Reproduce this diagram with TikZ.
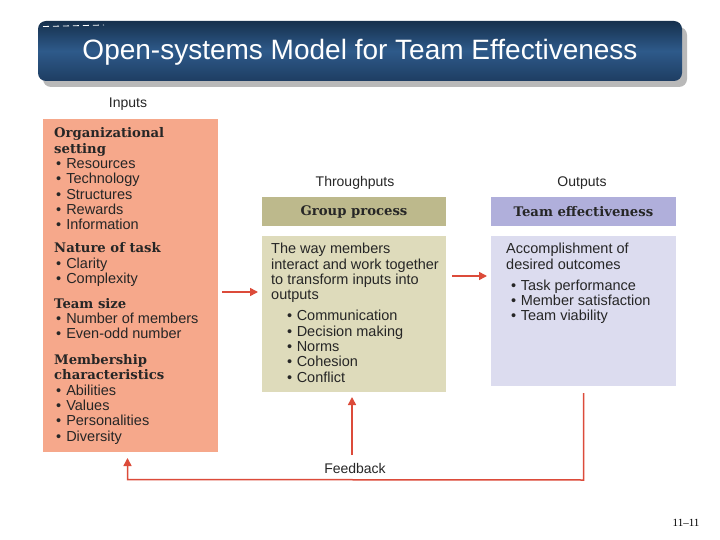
\documentclass[tikz,border=0pt]{standalone}
\usepackage{fontspec}
\setmainfont{Liberation Sans}
\newfontfamily\headfont{DejaVu Serif}
\newfontfamily\pagefont{Liberation Serif}
\usetikzlibrary{arrows.meta,calc}

\definecolor{inputc}{HTML}{F6A88B}
\definecolor{procdark}{HTML}{BDB98C}
\definecolor{proclight}{HTML}{DEDBBB}
\definecolor{outdark}{HTML}{B0AFDB}
\definecolor{outlight}{HTML}{DCDCEF}
\definecolor{arrowred}{HTML}{DC4B3A}
\definecolor{titletop}{HTML}{16304D}
\definecolor{titlemid}{HTML}{2E5A8A}
\definecolor{titlebot}{HTML}{1E3D62}

\newcommand{\hd}[1]{{\headfont\bfseries\fontsize{13.2}{15.3}\selectfont #1}}
\newcommand{\bul}[2]{\hspace*{#1}\textbullet\hspace{#2}}

\tikzset{
  fillbox/.style={inner sep=0pt, outer sep=0pt},
  hdbox/.style={fillbox, minimum width=184pt, minimum height=29pt, text=black!85,
    font=\headfont\bfseries\fontsize{13.2}{15}\selectfont},
  collab/.style={inner sep=0pt, text=black!85, font=\fontsize{14}{16}\selectfont},
  txt/.style={anchor=base west, inner sep=0pt, text=black!85, font=\fontsize{14.5}{15.3}\selectfont},
  arr/.style={draw=arrowred, line width=1.5pt, -{Triangle[length=8pt,width=8pt]}},
}

\begin{document}
\begin{tikzpicture}[x=1pt,y=-1pt]

\useasboundingbox[fill=white] (0,0) rectangle (720,540);

% title bar
\fill[gray!55, rounded corners=8pt] (43,27) rectangle (687,87);
\shade[top color=titletop, bottom color=titlebot, middle color=titlemid, rounded corners=8pt] (38,21) rectangle (682,81);
\draw[white, dash pattern=on 6pt off 4pt, line width=0.8pt] (43,26.5) -- (104,25);
\node (title) [text=white, font=\fontsize{28}{31}\selectfont] at (360,52) {Open-systems Model for Team Effectiveness};

% column labels
\node (inlab) [collab] at (128,104) {Inputs};
\node (thrlab) [collab] at (355,183) {Throughputs};
\node (outlab) [collab] at (582,183) {Outputs};

% boxes
\node (inp) [fillbox, fill=inputc, minimum width=175pt, minimum height=333pt] at (130.5,285.5) {};
\node (gp) [hdbox, fill=procdark] at (354,211.5) {Group process};
\node (thr) [fillbox, fill=proclight, minimum width=184pt, minimum height=156pt] at (354,314) {};
\node (te) [hdbox, fill=outdark, minimum width=185pt] at (583.5,211.5) {Team effectiveness};
\node (out) [fillbox, fill=outlight, minimum width=185pt, minimum height=150pt] at (583.5,311) {};

% box texts
\node (intxt) [txt] at ($(inp.north west)+(11,19)$) {\parbox[t]{170pt}{\raggedright
  \hd{Organizational}\\ \hd{setting}\\
  \bul{2pt}{5pt}Resources\\ \bul{2pt}{5pt}Technology\\ \bul{2pt}{5pt}Structures\\
  \bul{2pt}{5pt}Rewards\\ \bul{2pt}{5pt}Information\\[7.7pt]
  \hd{Nature of task}\\
  \bul{2pt}{5pt}Clarity\\ \bul{2pt}{5pt}Complexity\\[9.7pt]
  \hd{Team size}\\
  \bul{2pt}{5pt}Number of members\\ \bul{2pt}{5pt}Even-odd number\\[10.3pt]
  \hd{Membership}\\ \hd{characteristics}\\
  \bul{2pt}{5pt}Abilities\\ \bul{2pt}{5pt}Values\\ \bul{2pt}{5pt}Personalities\\
  \bul{2pt}{5pt}Diversity}};
\node (thrtxt) [txt] at ($(thr.north west)+(9,18)$) {\parbox[t]{180pt}{\raggedright
  The way members\\ interact and work together\\ to transform inputs into\\ outputs\\[5.7pt]
  \bul{16pt}{4.5pt}Communication\\ \bul{16pt}{4.5pt}Decision making\\ \bul{16pt}{4.5pt}Norms\\
  \bul{16pt}{4.5pt}Cohesion\\ \bul{16pt}{4.5pt}Conflict}};
\node (outtxt) [txt] at ($(out.north west)+(15,18)$) {\parbox[t]{170pt}{\raggedright
  Accomplishment of\\ desired outcomes\\[5.4pt]
  \bul{5pt}{4.5pt}Task performance\\ \bul{5pt}{4.5pt}Member satisfaction\\ \bul{5pt}{4.5pt}Team viability}};

% arrows
\coordinate (a1) at ($(inp.east)+(4,6.5)$);
\coordinate (a2) at ($(thr.east)+(6,-38)$);
\draw[arr] (a1) -- ($(a1 -| thr.west)+(-4,0)$);
\draw[arr] (a2) -- ($(a2 -| out.west)+(-4,0)$);

% feedback loop
\coordinate (fbr) at ($(out.south)+(0,94)$);
\coordinate (fbl) at ($(inp.south)+(-3,27.5)$);
\draw[arr] ($(out.south)+(0,7)$) -- (fbr) -- (fbl) -- ($(inp.south)+(-3,6)$);
\draw[arr] ($(thr.south)+(-2,63)$) -- ($(thr.south)+(-2,5)$);
\node (fblab) [collab] at ($(thr.south)+(1,76)$) {Feedback};

\node (pg) [inner sep=0pt, font=\pagefont\fontsize{11}{13}\selectfont] at (686,523) {11–11};

\end{tikzpicture}
\end{document}
